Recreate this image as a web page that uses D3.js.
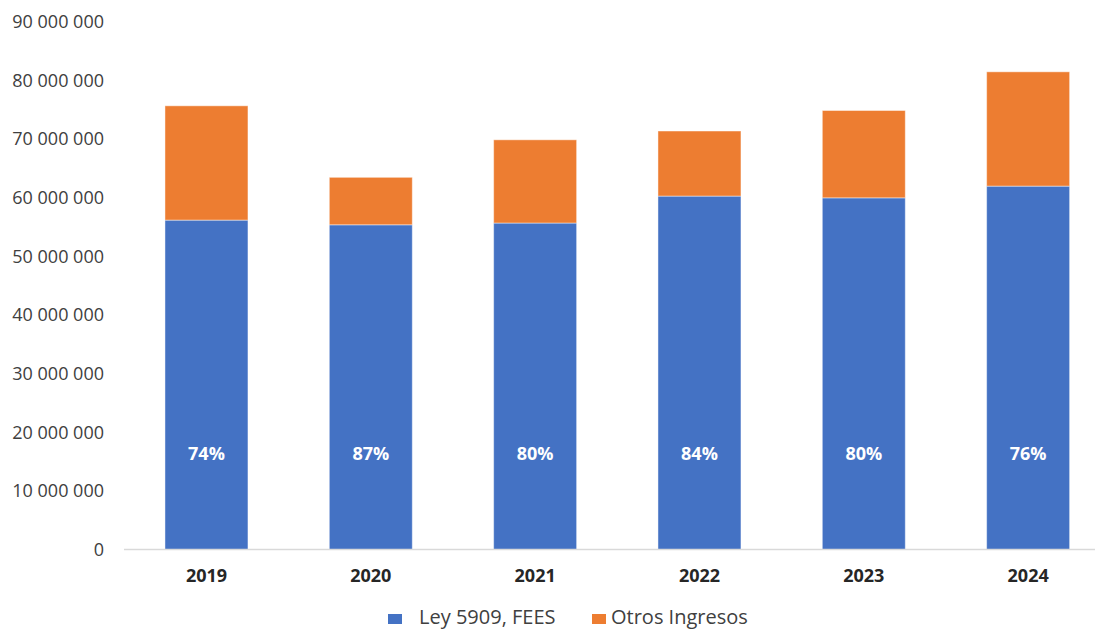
<!DOCTYPE html>
<html>
<head>
<meta charset="utf-8">
<script src="https://cdn.jsdelivr.net/npm/d3@7"></script>
<style>
  html, body { margin: 0; padding: 0; background: #fff; }
  svg { display: block; font-family: "Open Sans", "Noto Sans", sans-serif; }
</style>
</head>
<body>
<svg id="chart" width="1095" height="630"></svg>
<script>
// Annual income by source (in colones)
const years = ["2019", "2020", "2021", "2022", "2023", "2024"];
const ley5909 = [56200000, 55400000, 55700000, 60300000, 60000000, 62000000];
const otrosIngresos = [19500000, 8100000, 14200000, 11100000, 14900000, 19500000];
const seriesNames = ["Ley 5909, FEES", "Otros Ingresos"];
const yTicks = [0, 10000000, 20000000, 30000000, 40000000, 50000000, 60000000, 70000000, 80000000, 90000000];

const colors = ["#4472C4", "#ED7D31"];

const svg = d3.select("#chart");

const rows = years.map((y, i) => ({ year: y, ley: ley5909[i], otros: otrosIngresos[i] }));
const stack = d3.stack().keys(["ley", "otros"])(rows);

const x = d3.scaleBand().domain(years).range([124.3, 1110.3]).paddingInner(0.495).paddingOuter(0.2475);
const y = d3.scaleLinear().domain([0, 90000000]).range([549.5, 22]);

// y-axis labels with space as thousands separator
const fmt = v => d3.format(",")(v).replace(/,/g, " ");
const yAxis = d3.axisLeft(y).tickValues(yTicks).tickFormat(fmt).tickSize(0).tickPadding(0);
const gy = svg.append("g").attr("transform", "translate(104,0)").call(yAxis);
gy.select(".domain").remove();
gy.selectAll("text")
  .attr("font-size", 18)
  .attr("fill", "#404040")
  .attr("font-family", "'Open Sans', sans-serif");

// stacked bars
svg.append("g").selectAll("g")
  .data(stack)
  .join("g")
  .attr("fill", (d, i) => colors[i])
  .selectAll("rect")
  .data(d => d)
  .join("rect")
  .attr("x", d => x(d.data.year))
  .attr("width", x.bandwidth())
  .attr("y", d => y(d[1]))
  .attr("height", d => y(d[0]) - y(d[1]))
  .attr("stroke", "#ffffff")
  .attr("stroke-opacity", 0.45)
  .attr("stroke-width", 1);

// x-axis baseline and category labels
const xAxis = d3.axisBottom(x).tickSize(0).tickPadding(0);
const gx = svg.append("g").attr("transform", `translate(0,${y(0)})`).call(xAxis);
gx.select(".domain").attr("stroke", "#D9D9D9").attr("stroke-width", 1.5)
  .attr("d", "M124,0H1095");
gx.selectAll("text")
  .attr("dy", null)
  .attr("y", 32)
  .attr("font-size", 18)
  .attr("font-weight", "bold")
  .attr("fill", "#262626")
  .attr("font-family", "'Open Sans', sans-serif");

// share of Ley 5909 in each year's total
svg.append("g").selectAll("text")
  .data(rows)
  .join("text")
  .attr("x", d => x(d.year) + x.bandwidth() / 2)
  .attr("y", y(16500000))
  .attr("text-anchor", "middle")
  .attr("dominant-baseline", "central")
  .attr("font-size", 18)
  .attr("font-weight", "bold")
  .attr("fill", "#ffffff")
  .text(d => Math.round(d.ley / (d.ley + d.otros) * 100) + "%");

// legend
const legendX = [388, 592];
const lg = svg.append("g").selectAll("g")
  .data(seriesNames)
  .join("g")
  .attr("transform", (d, i) => `translate(${legendX[i]},0)`);
lg.append("rect")
  .attr("x", 0).attr("y", 614).attr("width", 14).attr("height", 10)
  .attr("fill", (d, i) => colors[i]);
lg.append("text")
  .attr("x", (d, i) => i === 0 ? 31 : 19)
  .attr("y", 624)
  .attr("font-size", 20)
  .attr("fill", "#404040")
  .text(d => d);
</script>
</body>
</html>
